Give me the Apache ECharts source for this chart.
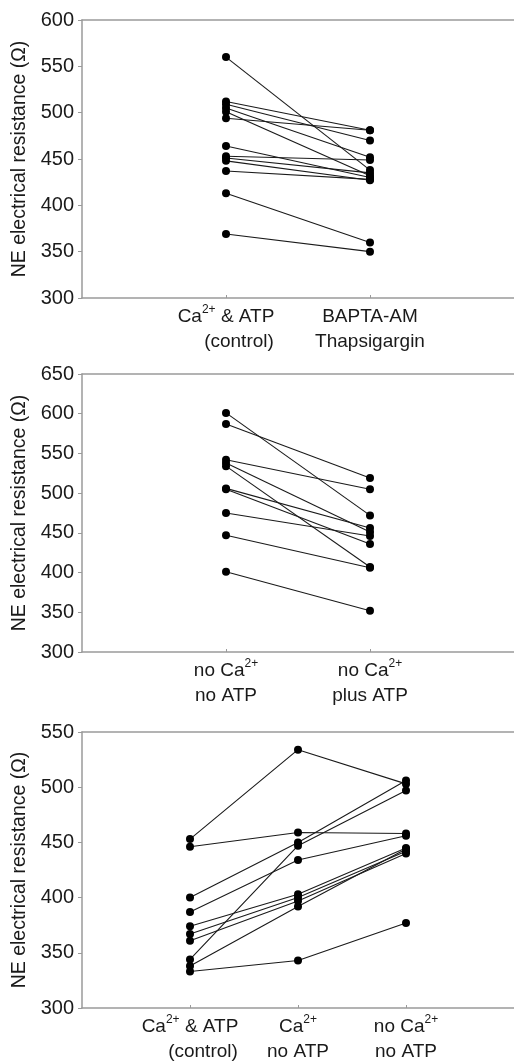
<!DOCTYPE html>
<html>
<head>
<meta charset="utf-8">
<script src="https://cdn.jsdelivr.net/npm/echarts@6/dist/echarts.min.js"></script>
<style>
html,body{margin:0;padding:0;background:#fff;}
#chart{width:514px;height:1064px;}
</style>
</head>
<body>
<div id="chart"></div>
<script>
// ---- data ----
const yTitle = 'NE electrical resistance (Ω)';

const p1Categories = ['Ca{s|2+} & ATP\n{c|(control)}', 'BAPTA-AM\nThapsigargin'];
const p1Control = [560, 512, 509, 505, 501, 494, 464, 453, 451, 448, 437, 413, 369];
const p1Bapta   = [438, 481, 470, 452, 432, 481, 430, 449, 435, 427, 428, 360, 350];
const p1Ticks = [300, 350, 400, 450, 500, 550, 600];

const p2Categories = ['no Ca{s|2+}\nno ATP', 'no Ca{s|2+}\nplus ATP'];
const p2NoCaNoATP   = [601, 587, 542, 538, 534, 506, 505, 475, 447, 401];
const p2NoCaPlusATP = [472, 519, 505, 451, 407, 456, 436, 446, 406, 352];
const p2Ticks = [300, 350, 400, 450, 500, 550, 600, 650];

const p3Categories = ['Ca{s|2+} & ATP\n{c|(control)}', 'Ca{s|2+}\nno ATP', 'no Ca{s|2+}\nno ATP'];
const p3Control   = [453, 446, 400, 344, 387, 374, 367, 361, 338, 333];
const p3CaNoATP   = [534, 459, 450, 447, 434, 403, 400, 397, 392, 343];
const p3NoCaNoATP = [503, 458, 506, 497, 456, 445, 442, 440, 444, 377];
const p3Ticks = [300, 350, 400, 450, 500, 550];

// ---- chart ----
const FONT = '"Liberation Sans", Arial, sans-serif';
const axisGray = '#9a9a9a';
const gridTops = [20, 374, 732];
const GRID_H = 278;

const grids = gridTops.map(t => ({
  left: 82, right: 0, top: t, height: GRID_H, show: false
}));

function makeX(idx, cats) {
  const vals = cats.map((_, i) => i + 1);
  return {
    type: 'value', gridIndex: idx, min: 0, max: cats.length + 1, interval: 1,
    splitLine: {show: false},
    axisLine: {show: true, lineStyle: {color: axisGray, width: 1.5}},
    axisTick: {show: true, inside: true, length: 3, customValues: vals, lineStyle: {color: axisGray}},
    axisLabel: {
      show: true, customValues: vals, margin: 6,
      fontFamily: FONT, fontSize: 19, color: '#1a1a1a', lineHeight: 25,
      formatter: v => cats[Math.round(v) - 1] || '',
      rich: {
        s: {fontFamily: FONT, fontSize: 12, color: '#1a1a1a', verticalAlign: 'top', lineHeight: 14},
        c: {fontFamily: FONT, fontSize: 19, color: '#1a1a1a', lineHeight: 25, padding: [0, 0, 0, 26]}
      }
    }
  };
}

function makeTopX(idx, cats) {
  return {
    type: 'value', gridIndex: idx, position: 'top', min: 0, max: cats.length + 1,
    splitLine: {show: false},
    axisLine: {show: true, lineStyle: {color: axisGray, width: 1.5}},
    axisTick: {show: false}, axisLabel: {show: false}
  };
}

function makeY(idx, ticks) {
  return {
    type: 'value', gridIndex: idx,
    min: ticks[0], max: ticks[ticks.length - 1], interval: 50,
    name: yTitle, nameLocation: 'middle', nameGap: 51, nameRotate: 90,
    nameTextStyle: {fontFamily: FONT, fontSize: 19.5, color: '#1a1a1a'},
    splitLine: {show: false},
    axisLine: {show: true, lineStyle: {color: axisGray, width: 1.5}},
    axisTick: {show: true, inside: false, length: 4, lineStyle: {color: axisGray}},
    axisLabel: {fontFamily: FONT, fontSize: 20, color: '#1a1a1a', margin: 8}
  };
}

function pairSeries(idx, cols) {
  const out = [];
  const n = cols[0].length;
  for (let i = 0; i < n; i++) {
    out.push({
      type: 'line', xAxisIndex: idx, yAxisIndex: idx,
      data: cols.map((c, j) => [j + 1, c[i]]),
      symbol: 'circle', symbolSize: 8, showSymbol: true,
      lineStyle: {color: '#1a1a1a', width: 1.1},
      itemStyle: {color: '#000'},
      emphasis: {disabled: true}, silent: true, animation: false
    });
  }
  return out;
}

const chart = echarts.init(document.getElementById('chart'), null, {renderer: 'canvas'});
chart.setOption({
  backgroundColor: '#fff',
  animation: false,
  grid: grids,
  xAxis: [
    makeX(0, p1Categories), makeX(1, p2Categories), makeX(2, p3Categories),
    makeTopX(0, p1Categories), makeTopX(1, p2Categories), makeTopX(2, p3Categories)
  ],
  yAxis: [makeY(0, p1Ticks), makeY(1, p2Ticks), makeY(2, p3Ticks)],
  series: [
    ...pairSeries(0, [p1Control, p1Bapta]),
    ...pairSeries(1, [p2NoCaNoATP, p2NoCaPlusATP]),
    ...pairSeries(2, [p3Control, p3CaNoATP, p3NoCaNoATP])
  ]
});
</script>
</body>
</html>
